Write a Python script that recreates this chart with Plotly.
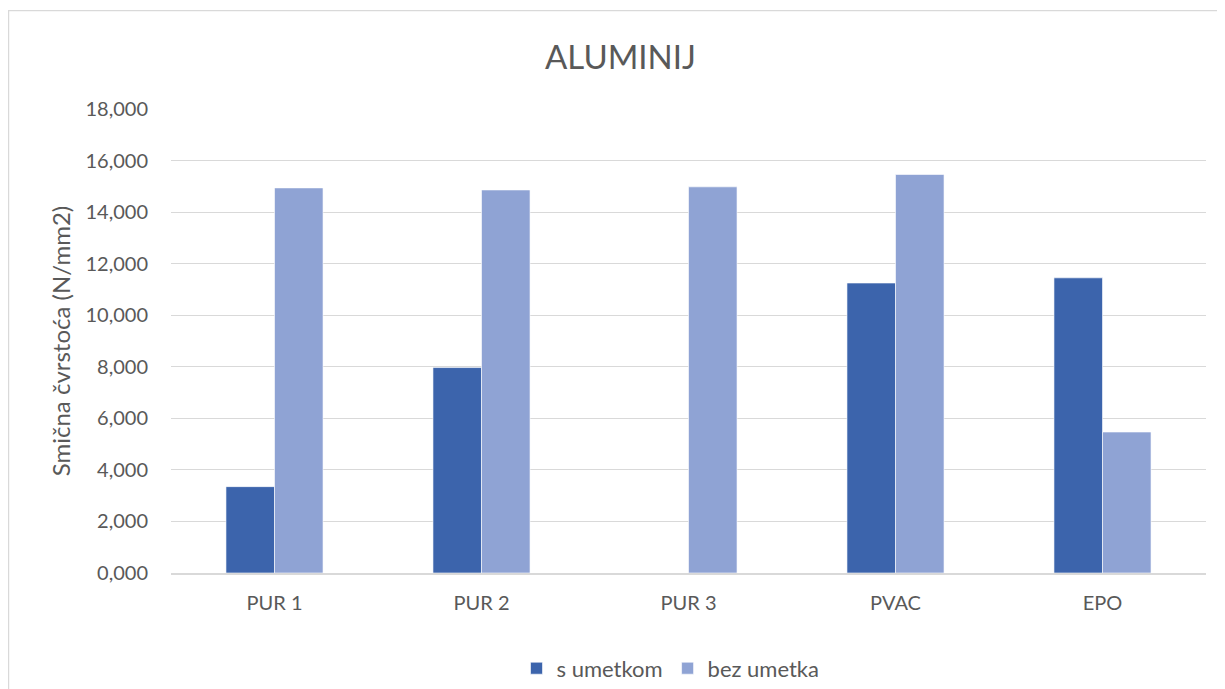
import plotly.graph_objects as go

categories = ["PUR 1", "PUR 2", "PUR 3", "PVAC", "EPO"]
s_umetkom = [3.35, 7.97, 0.0, 11.25, 11.45]
bez_umetka = [14.94, 14.86, 14.98, 15.46, 5.47]
tick_vals = [0, 2, 4, 6, 8, 10, 12, 14, 16, 18]

FONT = "Lato"
TXT = "#595959"
OFF = 8  # page body margin
W, H = 1225, 689
L, T = 171 - OFF, 109 - OFF
PR, PB = 1206.5 - OFF, 573.5 - OFF  # plot right / bottom in figure coords
R, B = W - PR, H - PB
pw = PR - L
ph = PB - T

fig = go.Figure()
fig.add_trace(go.Bar(name="s umetkom", x=categories, y=s_umetkom,
                     marker=dict(color="#3c64ac", line=dict(color="#ffffff", width=0.6))))
fig.add_trace(go.Bar(name="bez umetka", x=categories, y=bez_umetka,
                     marker=dict(color="#8fa3d4", line=dict(color="#ffffff", width=0.6))))

fig.update_layout(
    width=W, height=H,
    margin=dict(l=L, r=R, t=T, b=B, autoexpand=False),
    paper_bgcolor="white", plot_bgcolor="white",
    barmode="group", bargap=0.531, bargroupgap=0,
    separators=",.",
    font=dict(family=FONT, color=TXT, size=20),
    title=dict(text="ALUMINIJ", x=0.5, xanchor="center", y=1 - (57 - OFF) / H, yanchor="middle",
               font=dict(family=FONT, size=33, color=TXT)),
    legend=dict(orientation="h", x=0.5 - 18 / pw, xanchor="center", y=(PB - (669 - OFF)) / ph, yanchor="middle",
                font=dict(family=FONT, size=22, color=TXT), itemwidth=30, traceorder="normal"),
    showlegend=True,
)
fig.update_xaxes(showgrid=False, showline=True, linecolor="#d9d9d9", linewidth=1.5,
                 ticks="", tickfont=dict(family=FONT, size=20, color=TXT), ticklabelstandoff=11)
fig.update_yaxes(range=[0, 18], tickvals=tick_vals, tickformat=".3f",
                 showgrid=True, gridcolor="#d9d9d9", gridwidth=1.3, zeroline=False,
                 showline=False, ticks="", ticklabelstandoff=22,
                 tickfont=dict(family=FONT, size=20, color=TXT),
                 title=dict(text="Smična čvrstoća (N/mm2)", font=dict(family=FONT, size=24, color=TXT), standoff=8))

# chart area border
fig.add_shape(type="rect", xref="paper", yref="paper",
              x0=(8.5 - OFF - L) / pw, x1=(W + 20 - L) / pw,
              y0=(PB - (H + 20)) / ph, y1=(PB - (10.5 - OFF)) / ph,
              line=dict(color="#d9d9d9", width=1.3), fillcolor="rgba(0,0,0,0)", layer="below")

fig.write_html("out.html")
